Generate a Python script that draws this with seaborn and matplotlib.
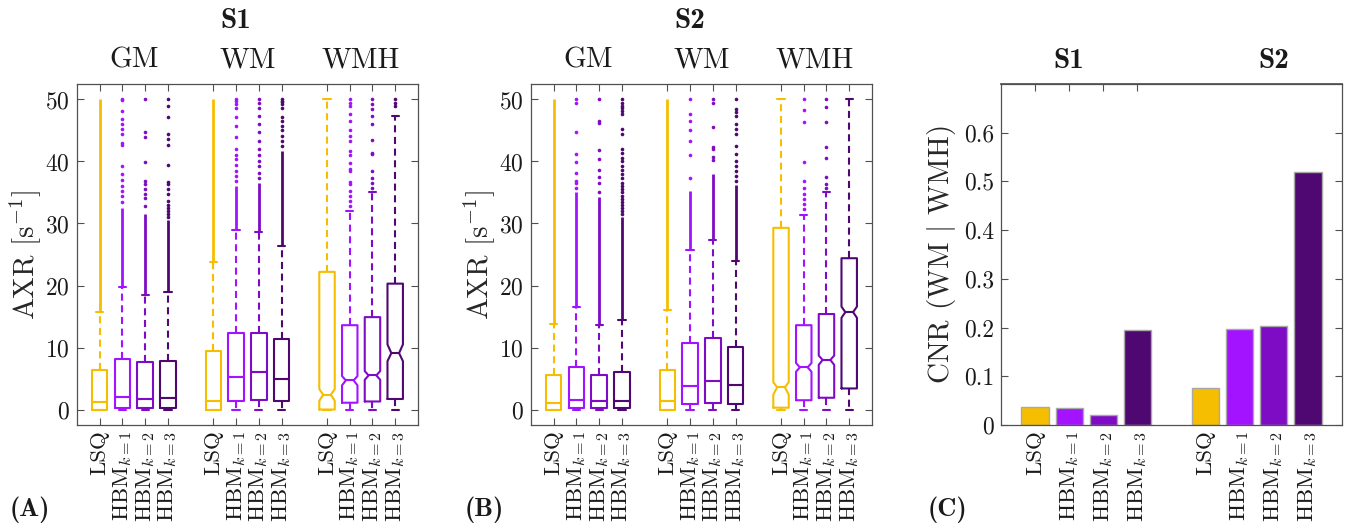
import pandas as pd
import seaborn as sns
import matplotlib.pyplot as plt

# labels and colours
methods = ['LSQ', 'HBM$_{k=1}$', 'HBM$_{k=2}$', 'HBM$_{k=3}$']
tissues = ['GM', 'WM', 'WMH']
subjects = ['S1', 'S2']
colors = ['#F5BE00', '#A413FF', '#7E0CC4', '#4F0872']
box_pos = [1, 2, 3, 4, 6, 7, 8, 9, 11, 12, 13, 14]
bar_pos = [1, 2, 3, 4, 6, 7, 8, 9]
axr_ticks = [0, 10, 20, 30, 40, 50]
cnr_ticks = [0, 0.1, 0.2, 0.3, 0.4, 0.5, 0.6]
cnr_ticklabels = ['0', '0.1', '0.2', '0.3', '0.4', '0.5', '0.6']

# S1 box statistics (order: GM x4, WM x4, WMH x4)
s1_q1 = [0, 0.3, 0.3, 0.3, 0, 1.3, 1.6, 1.3, 0, 1.1, 1.3, 1.7]
s1_med = [1.2, 2.0, 1.7, 1.8, 1.4, 5.2, 6.0, 4.9, 2.4, 4.7, 5.5, 9.1]
s1_q3 = [6.3, 8.2, 7.6, 7.8, 9.5, 12.4, 12.4, 11.3, 22.2, 13.6, 14.9, 20.3]
s1_whislo = [0, 0, 0, 0, 0, 0, 0, 0, 0, 0, 0, 0]
s1_whishi = [15.8, 19.8, 18.5, 19.0, 23.8, 29.0, 28.6, 26.3, 50, 32.0, 35.0, 47.3]
s1_cilo = [None] * 8 + [1.4, 3.9, 4.8, 7.8]
s1_cihi = [None] * 8 + [3.3, 5.4, 6.2, 10.5]
# upper end of the dense (solid-looking) run of outliers above the whisker cap
s1_dense_top = [50, 32.5, 31.6, 30.5, 50, 36.1, 36.6, 41.7, None, None, None, None]
s1_fliers = [
    [],
    [33.5, 34.5, 35.3, 36.0, 37.0, 38.0, 39.3, 42.6, 42.9, 44.5, 45.2, 46.1, 46.9, 48.1, 49.9, 50.0],
    [32.9, 34.1, 34.8, 35.6, 36.4, 36.9, 39.9, 43.9, 44.7, 50.0],
    [31.0, 31.5, 32.0, 32.5, 33.0, 33.7, 34.8, 35.6, 36.4, 36.7, 39.4, 42.6, 43.7, 44.4, 47.1, 49.0, 50.0],
    [],
    [36.9, 37.7, 38.4, 39.4, 40.4, 41.1, 42.0, 44.0, 45.7, 47.1, 48.7, 49.2, 49.8, 50.0],
    [37.4, 38.2, 39.3, 40.1, 41.1, 42.0, 43.3, 44.7, 46.1, 47.4, 48.7, 49.5, 50.0],
    [42.5, 43.3, 44.1, 45.0, 45.8, 46.5, 47.2, 48.7, 49.3, 49.6, 49.8, 50.0],
    [],
    [32.9, 33.7, 34.5, 35.3, 36.4, 36.7, 38.4, 38.8, 39.7, 41.1, 41.7, 43.3, 44.1, 45.1, 46.6, 47.6, 48.9, 49.5, 50.0],
    [35.8, 36.6, 37.3, 38.4, 41.2, 41.4, 43.4, 46.1, 47.4, 48.4, 49.2, 50.0],
    [49.0, 49.5, 50.0],
]

# S2 box statistics
s2_q1 = [0, 0.3, 0.2, 0.2, 0, 0.9, 1.0, 0.9, 0.3, 1.5, 1.9, 3.4]
s2_med = [1.0, 1.5, 1.3, 1.3, 1.3, 3.8, 4.6, 3.9, 3.6, 6.8, 8.0, 15.7]
s2_q3 = [5.6, 6.8, 5.6, 6.0, 6.4, 10.8, 11.5, 10.1, 29.3, 13.6, 15.4, 24.4]
s2_whislo = [0, 0, 0, 0, 0, 0, 0, 0, 0, 0, 0, 0]
s2_whishi = [13.8, 16.6, 13.7, 14.5, 16.1, 25.7, 27.3, 24.0, 50, 31.4, 35.0, 50]
s2_cilo = [None] * 8 + [2.4, 6.1, 7.2, 14.8]
s2_cihi = [None] * 8 + [4.4, 7.5, 8.7, 16.6]
s2_dense_top = [50, 35.0, 34.2, 31.1, 50, 35.3, 37.9, 36.2, None, None, None, None]
s2_fliers = [
    [],
    [35.8, 36.5, 36.9, 38.2, 39.9, 41.2, 44.8, 49.5, 50.0],
    [35.0, 36.5, 37.5, 38.7, 40.4, 41.8, 46.2, 46.6, 50.0],
    [31.5, 32.0, 32.5, 33.0, 33.5, 34.0, 34.5, 35.0, 35.5, 36.0, 36.5, 37.3, 38.0, 38.6, 39.2, 40.0,
     40.5, 41.3, 42.0, 44.4, 45.2, 47.6, 48.2, 48.6, 49.0, 49.5, 50.0],
    [],
    [37.4, 41.1, 43.3, 45.1, 46.5, 47.7, 50.0],
    [40.2, 40.8, 42.0, 42.4, 45.6, 49.5, 50.0],
    [36.9, 37.7, 38.4, 39.3, 40.1, 41.2, 42.5, 44.5, 45.2, 46.0, 47.4, 47.9, 48.4, 50.0],
    [],
    [32.3, 33.1, 33.9, 34.8, 35.8, 36.8, 39.9, 46.4, 48.3, 50.0],
    [35.8, 36.4, 37.5, 40.5, 42.3, 46.4, 48.8, 50.0],
    [],
]

# CNR bars
cnr_s1 = [0.037, 0.034, 0.021, 0.195]
cnr_s2 = [0.076, 0.197, 0.203, 0.520]

sns.set_theme(style='ticks')
plt.rcParams['font.family'] = ['cmr10', 'DejaVu Serif']
plt.rcParams['mathtext.fontset'] = 'cm'
plt.rcParams['axes.formatter.use_mathtext'] = True
plt.rcParams['axes.unicode_minus'] = False
plt.rcParams['text.color'] = '#1a1a1a'

spine_col = '#505050'
dash = (0, (3.4, 2.2))


def style_axes(ax):
    for sp in ax.spines.values():
        sp.set_color(spine_col)
        sp.set_linewidth(0.9)
    ax.tick_params(direction='in', length=5, width=0.8, color=spine_col,
                   labelcolor='#1a1a1a', top=True, right=True)
    ax.tick_params(axis='y', labelsize=17, pad=5)
    ax.tick_params(axis='x', labelsize=16.5, pad=4)


def draw_boxes(ax, q1, med, q3, whislo, whishi, cilo, cihi, dense_top, fliers, subject):
    for i in range(len(box_pos)):
        c = colors[i % 4]
        lo = med[i] if cilo[i] is None else cilo[i]
        hi = med[i] if cihi[i] is None else cihi[i]
        st = dict(q1=q1[i], med=med[i], q3=q3[i], whislo=whislo[i], whishi=whishi[i],
                  cilo=lo, cihi=hi, fliers=fliers[i])
        if dense_top[i] is not None:
            ax.vlines(box_pos[i], whishi[i], dense_top[i], color=c, lw=2.0, zorder=1)
        ax.bxp([st], positions=[box_pos[i]], widths=0.68, capwidths=0.32, shownotches=True,
               manage_ticks=False,
               boxprops=dict(color=c, lw=1.5),
               medianprops=dict(color=c, lw=1.5),
               whiskerprops=dict(color=c, lw=1.5, ls=dash),
               capprops=dict(color=c, lw=1.5),
               flierprops=dict(marker='o', markersize=2.6, markerfacecolor=c,
                               markeredgecolor='none'))
    ax.set_xlim(0, 15)
    ax.set_ylim(-2.5, 52.5)
    ax.set_yticks(axr_ticks)
    ax.set_xticks(box_pos, labels=methods * 3, rotation=90)
    ax.set_ylabel(r'AXR $[\mathrm{s}^{-1}]$', fontsize=21, labelpad=2)
    for k, t in enumerate(tissues):
        ax.text(2.5 + 5 * k, 1.068, t, transform=ax.get_xaxis_transform(),
                ha='center', va='center', fontsize=21)
    ax.text(7.0, 1.185, subject, transform=ax.get_xaxis_transform(), family='cmb10',
            ha='center', va='center', fontsize=21)
    style_axes(ax)


fig = plt.figure(figsize=(13.46, 5.28), dpi=100)
ax_a = fig.add_axes([0.0572, 0.195, 0.2533, 0.646])
ax_b = fig.add_axes([0.3945, 0.195, 0.2533, 0.646])
ax_c = fig.add_axes([0.7437, 0.195, 0.2533, 0.646])

draw_boxes(ax_a, s1_q1, s1_med, s1_q3, s1_whislo, s1_whishi, s1_cilo, s1_cihi,
           s1_dense_top, s1_fliers, subjects[0])
draw_boxes(ax_b, s2_q1, s2_med, s2_q3, s2_whislo, s2_whishi, s2_cilo, s2_cihi,
           s2_dense_top, s2_fliers, subjects[1])

# panel C: CNR bars
df = pd.DataFrame({'pos': bar_pos, 'cnr': cnr_s1 + cnr_s2, 'method': methods * 2})
sns.barplot(data=df, x='pos', y='cnr', hue='method', palette=colors, native_scale=True,
            saturation=1, dodge=False, width=0.8, edgecolor='#a8a8a8', linewidth=1.0,
            legend=False, ax=ax_c)
ax_c.set_xlim(0, 10)
ax_c.set_ylim(0, 0.7)
ax_c.set_yticks(cnr_ticks, labels=cnr_ticklabels)
ax_c.set_xticks(bar_pos, labels=methods * 2, rotation=90)
ax_c.set_xlabel('')
ax_c.set_ylabel(r'CNR (WM $|$ WMH)', fontsize=21, labelpad=4)
style_axes(ax_c)
ax_c.tick_params(axis='x', top=False)
top = ax_c.secondary_xaxis('top')
top.set_xticks(bar_pos[:4], labels=[])
top.tick_params(direction='in', length=5, width=0.8, color=spine_col)
top.spines['top'].set_color(spine_col)
for k, s in enumerate(subjects):
    ax_c.text(2 + 6 * k, 1.068, s, transform=ax_c.get_xaxis_transform(), family='cmb10',
              ha='center', va='center', fontsize=21)

for x, lab in [(0.007, '(A)'), (0.345, '(B)'), (0.689, '(C)')]:
    fig.text(x, 0.034, lab, family='cmb10', fontsize=19, ha='left', va='center')

fig.savefig('out.png', dpi=100)
